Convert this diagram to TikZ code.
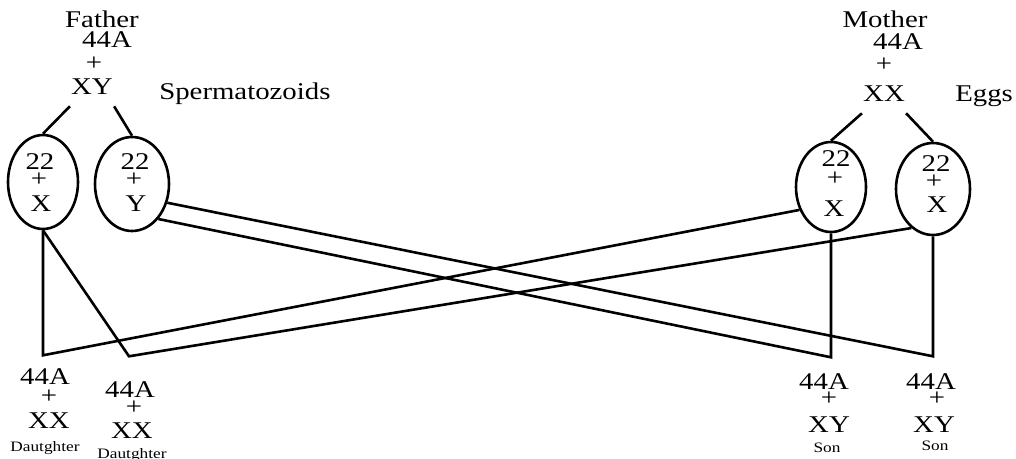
\documentclass[tikz,border=0pt]{standalone}
\usepackage{fontspec}
\setmainfont[FakeStretch=1.2]{Liberation Serif}
\usetikzlibrary{shapes.geometric}
\begin{document}
\begin{tikzpicture}[x=0.5pt, y=-0.5pt, line width=1.3pt,
 chrom/.style={inner sep=0pt, anchor=base, font=\fontsize{12}{14}\selectfont},
 pl/.style={inner sep=0pt, font=\fontsize{12}{14}\selectfont},
 kid/.style={inner sep=0pt, anchor=base, font=\fontsize{7.2}{9}\selectfont},
 parent/.style={chrom, inner ysep=5pt},
 gamete/.style={draw, ellipse, inner sep=0pt, minimum width=35pt, minimum height=47pt}]
\useasboundingbox (0,0) rectangle (1016,459);
\node[chrom] (father) at (102,28) {Father};
\node[chrom] (f44) at (107,48) {44A};
\node[pl] (fplus) at (94,64) {+};
\node[parent] (fxy) at (92,95) {XY};
\node[chrom, anchor=base west] (sperm) at (158,100) {Spermatozoids};
\node[chrom] (mother) at (885,28) {Mother};
\node[chrom] (m44) at (898,50) {44A};
\node[pl] (mplus) at (884,65) {+};
\node[parent] (mxx) at (884,102) {XX};
\node[chrom, anchor=base west] (eggs) at (954,102) {Eggs};
\node[gamete] (sx) at (43,182) {};
\node[gamete, minimum width=37pt] (sy) at (132,184) {};
\node[gamete, minimum height=45pt] (ex1) at (831,187) {};
\node[gamete, minimum width=37pt, minimum height=46pt] (ex2) at (933,189) {};
\node[chrom] (sx-n) at (40,170) {22};
\node[pl] (sx-p) at (39,180) {+};
\node[chrom] (sx-c) at (41,212) {X};
\node[chrom] (sy-n) at (135,170) {22};
\node[pl] (sy-p) at (134,180) {+};
\node[chrom] (sy-c) at (136,212) {Y};
\node[chrom] (ex1-n) at (836,167) {22};
\node[pl] (ex1-p) at (835,179) {+};
\node[chrom] (ex1-c) at (834,217) {X};
\node[chrom] (ex2-n) at (936,172) {22};
\node[pl] (ex2-p) at (934,182) {+};
\node[chrom] (ex2-c) at (937,213) {X};
\node[chrom] (d1a) at (45,385) {44A};
\node[pl] (d1p) at (49,397) {+};
\node[chrom] (d1c) at (49,428) {XX};
\node[kid] (d1) at (45,451) {Dautghter};
\node[chrom] (d2a) at (130,397) {44A};
\node[pl] (d2p) at (134,408) {+};
\node[chrom] (d2c) at (132,438) {XX};
\node[kid] (d2) at (132,458) {Dautghter};
\node[chrom] (s1a) at (824,389) {44A};
\node[pl] (s1p) at (829,399) {+};
\node[chrom] (s1c) at (829,432) {XY};
\node[kid] (s1) at (827,452) {Son};
\node[chrom] (s2a) at (931,389) {44A};
\node[pl] (s2p) at (937,399) {+};
\node[chrom] (s2c) at (934,432) {XY};
\node[kid] (s2) at (935,450) {Son};
\draw (fxy.south west) -- (sx.north);
\draw (fxy.south east) -- (sy.north);
\draw (mxx.south west) -- (ex1.north);
\draw (mxx.south east) -- (ex2.north);
\draw (sx.south) -- ++(0,125) -- (ex1.216);
\draw (sx.south) -- ++(86,126) -- (ex2.241);
\draw (ex2.south) -- ++(0,120) -- (sy.-28);
\draw (ex1.south) -- ++(0,124) -- (sy.-53);
\end{tikzpicture}
\end{document}
